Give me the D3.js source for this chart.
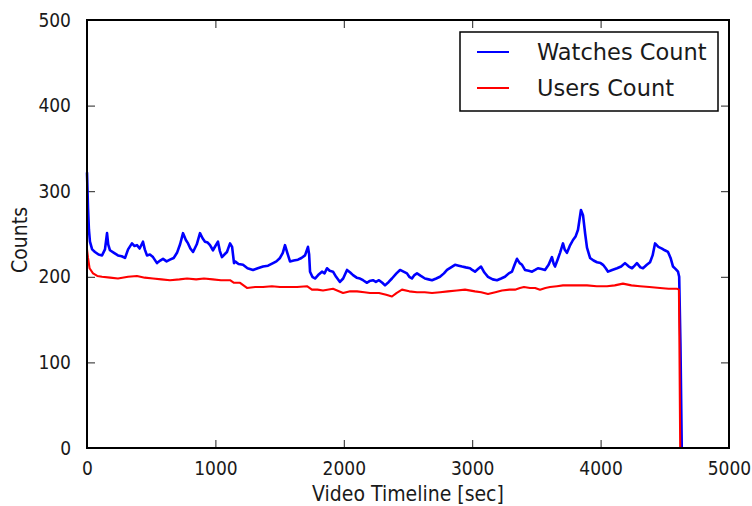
<!DOCTYPE html>
<html>
<head>
<meta charset="utf-8">
<script src="https://cdn.jsdelivr.net/npm/d3@7"></script>
<style>
  body { margin: 0; background: #fff; }
  .tick text { font-family: "DejaVu Sans Condensed", "DejaVu Sans", sans-serif; font-stretch: condensed; font-size: 19px; fill: #1a1a1a; }
  .lab { font-family: "DejaVu Sans Condensed", "DejaVu Sans", sans-serif; font-stretch: condensed; font-size: 21px; fill: #1a1a1a; }
  .leg { font-family: "DejaVu Sans", sans-serif; font-size: 22.5px; fill: #1a1a1a; }
</style>
</head>
<body>
<div id="chart"></div>
<script>
// watches count (sec, count)
var watchTime = [0, 8, 15, 23, 40, 62, 90, 117, 140, 156, 165, 179, 210, 241, 270, 296, 320, 350, 370, 389, 410, 436, 450, 467, 490, 514, 545, 570, 592, 620, 646, 675, 701, 725, 748, 770, 787, 805, 826, 855, 880, 900, 919, 940, 958, 981, 1000, 1020, 1035, 1051, 1070, 1090, 1114, 1130, 1145, 1153, 1180, 1215, 1250, 1293, 1330, 1371, 1410, 1449, 1475, 1503, 1525, 1542, 1560, 1581, 1610, 1643, 1670, 1698, 1721, 1730, 1737, 1755, 1776, 1800, 1830, 1850, 1869, 1890, 1916, 1940, 1970, 1995, 2025, 2050, 2072, 2100, 2126, 2150, 2181, 2200, 2227, 2250, 2274, 2300, 2321, 2350, 2375, 2410, 2438, 2465, 2492, 2510, 2531, 2550, 2570, 2600, 2632, 2660, 2687, 2720, 2749, 2780, 2804, 2835, 2866, 2895, 2921, 2950, 2983, 3000, 3022, 3045, 3069, 3095, 3123, 3160, 3193, 3225, 3255, 3285, 3310, 3330, 3349, 3370, 3388, 3411, 3440, 3466, 3490, 3512, 3540, 3567, 3595, 3621, 3635, 3645, 3665, 3684, 3707, 3720, 3738, 3760, 3785, 3805, 3824, 3835, 3847, 3863, 3880, 3894, 3918, 3945, 3972, 4000, 4019, 4040, 4058, 4090, 4128, 4160, 4190, 4220, 4245, 4265, 4283, 4310, 4330, 4360, 4385, 4405, 4424, 4450, 4478, 4500, 4525, 4545, 4564, 4585, 4603, 4612, 4622, 4632];
var watchCount = [322, 280, 255, 241, 232, 229, 226, 225, 232, 251, 238, 231, 228, 225, 224, 222, 232, 239, 236, 237, 233, 241, 232, 225, 226, 223, 216, 219, 221, 218, 220, 222, 228, 238, 251, 243, 239, 233, 229, 238, 251, 245, 241, 240, 237, 231, 236, 241, 230, 223, 226, 229, 239, 235, 216, 218, 215, 214, 210, 208, 210, 212, 213, 216, 218, 222, 228, 237, 228, 218, 219, 220, 222, 225, 235, 226, 206, 200, 198, 202, 206, 204, 210, 207, 206, 200, 194, 198, 208, 205, 202, 199, 198, 196, 193, 195, 196, 194, 196, 193, 190, 194, 198, 204, 208, 206, 204, 200, 198, 202, 204, 201, 198, 197, 196, 198, 200, 204, 208, 211, 214, 213, 212, 211, 210, 208, 206, 209, 212, 205, 200, 197, 196, 198, 200, 204, 206, 214, 221, 216, 214, 208, 207, 206, 208, 210, 209, 208, 214, 223, 215, 212, 220, 228, 239, 232, 228, 236, 243, 247, 255, 266, 278, 272, 250, 234, 222, 219, 217, 216, 214, 210, 206, 208, 210, 212, 216, 212, 210, 213, 216, 211, 210, 214, 217, 225, 239, 235, 233, 231, 229, 222, 212, 209, 206, 200, 120, 0];

// users count
var userTime = [0, 8, 20, 47, 80, 117, 180, 241, 320, 389, 450, 514, 580, 646, 720, 779, 850, 911, 980, 1043, 1114, 1145, 1192, 1246, 1310, 1371, 1440, 1503, 1570, 1636, 1713, 1752, 1795, 1838, 1916, 1994, 2050, 2103, 2160, 2204, 2274, 2330, 2375, 2410, 2453, 2510, 2570, 2630, 2687, 2750, 2811, 2880, 2944, 3022, 3070, 3123, 3180, 3232, 3290, 3333, 3372, 3403, 3450, 3490, 3528, 3570, 3606, 3660, 3707, 3800, 3894, 3970, 4050, 4110, 4174, 4240, 4307, 4380, 4463, 4530, 4595, 4610, 4614, 4620];
var userCount = [232, 222, 210, 204, 201, 200, 199, 198, 200, 201, 199, 198, 197, 196, 197, 198, 197, 198, 197, 196, 196, 193, 193, 187, 188, 188, 189, 188, 188, 188, 189, 185, 185, 184, 186, 181, 183, 183, 182, 181, 181, 179, 177, 181, 185, 183, 182, 182, 181, 182, 183, 184, 185, 183, 182, 180, 182, 184, 185, 185, 187, 188, 187, 187, 185, 187, 188, 189, 190, 190, 190, 189, 189, 190, 192, 190, 189, 188, 187, 186, 186, 185, 120, 0];

var xTicks = [0, 1000, 2000, 3000, 4000, 5000];
var yTicks = [0, 100, 200, 300, 400, 500];
var seriesNames = ["Watches Count", "Users Count"];
var seriesColors = ["#0000ff", "#ff0000"];

var margin = { top: 20, right: 23, bottom: 58, left: 87 },
    width = 752 - margin.left - margin.right,
    height = 506 - margin.top - margin.bottom;

var svg = d3.select("#chart")
    .append("svg")
    .attr("width", 752)
    .attr("height", 506)
    .append("g")
    .attr("transform", "translate(" + margin.left + "," + margin.top + ")");

var x = d3.scaleLinear().domain([0, 5000]).range([0, width]);
var y = d3.scaleLinear().domain([0, 500]).range([height, 0]);

// axes, ticks pointing inward
function styleAxis(g) {
    g.select(".domain").remove();
    g.selectAll(".tick line").attr("stroke", "#222").attr("stroke-width", 1);
}
svg.append("g")
    .attr("transform", "translate(0," + height + ")")
    .call(d3.axisBottom(x).tickValues(xTicks).tickSizeInner(-8).tickPadding(14).tickFormat(d3.format("d")))
    .call(styleAxis);
svg.append("g")
    .call(d3.axisLeft(y).tickValues(yTicks).tickSizeInner(-8).tickPadding(16).tickFormat(d3.format("d")))
    .call(styleAxis);
svg.append("g")
    .call(d3.axisTop(x).tickValues(xTicks).tickSizeInner(-8).tickFormat(""))
    .call(styleAxis);
svg.append("g")
    .attr("transform", "translate(" + width + ",0)")
    .call(d3.axisRight(y).tickValues(yTicks).tickSizeInner(-8).tickFormat(""))
    .call(styleAxis);

// lines
var line = d3.line()
    .x(function (d) { return x(d[0]); })
    .y(function (d) { return y(d[1]); });

var watches = watchTime.map(function (t, i) { return [t, watchCount[i]]; });
var users = userTime.map(function (t, i) { return [t, userCount[i]]; });

svg.append("path").datum(watches)
    .attr("fill", "none").attr("stroke", seriesColors[0]).attr("stroke-width", 2.6)
    .attr("stroke-linejoin", "round")
    .attr("d", line);
svg.append("path").datum(users)
    .attr("fill", "none").attr("stroke", seriesColors[1]).attr("stroke-width", 2.1)
    .attr("stroke-linejoin", "round")
    .attr("d", line);

// frame
svg.append("rect")
    .attr("width", width).attr("height", height)
    .attr("fill", "none").attr("stroke", "#000").attr("stroke-width", 2);

// axis labels
svg.append("text")
    .attr("class", "lab")
    .attr("text-anchor", "middle")
    .attr("x", width / 2)
    .attr("y", height + 53)
    .text("Video Timeline [sec]");
svg.append("text")
    .attr("class", "lab")
    .attr("text-anchor", "middle")
    .attr("transform", "rotate(-90)")
    .attr("x", -(240 - margin.top))
    .attr("y", -60)
    .text("Counts");

// legend
var legend = svg.append("g").attr("transform", "translate(" + (460 - margin.left) + "," + (32 - margin.top) + ")");
legend.append("rect")
    .attr("width", 258).attr("height", 79)
    .attr("fill", "#fff").attr("stroke", "#000").attr("stroke-width", 1.5);
legend.selectAll("line.key")
    .data(seriesNames)
    .enter().append("line")
    .attr("x1", 17).attr("x2", 49)
    .attr("y1", function (d, i) { return 20 + i * 36; })
    .attr("y2", function (d, i) { return 20 + i * 36; })
    .attr("stroke", function (d, i) { return seriesColors[i]; })
    .attr("stroke-width", 2);
legend.selectAll("text")
    .data(seriesNames)
    .enter().append("text")
    .attr("class", "leg")
    .attr("x", 77)
    .attr("y", function (d, i) { return 20 + i * 36; })
    .attr("dy", "0.36em")
    .text(function (d) { return d; });
</script>
</body>
</html>
